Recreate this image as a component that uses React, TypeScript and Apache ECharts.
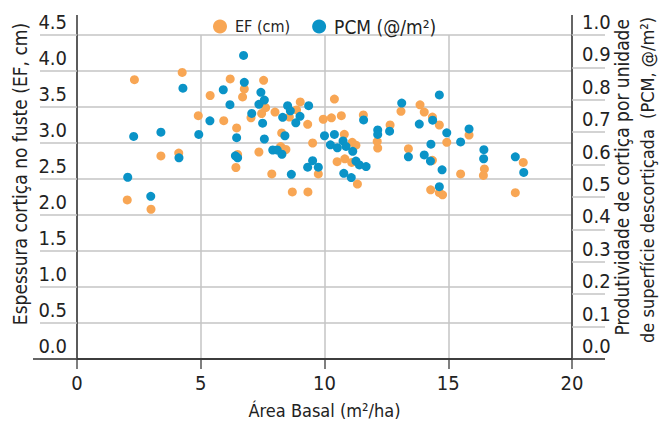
import React, { useEffect, useRef } from "react";
import * as echarts from "echarts";

const FONT = "'Liberation Sans Narrow', 'DejaVu Sans Condensed', 'Roboto', sans-serif";

const xTicks = [0, 5, 10, 15, 20];
const leftTicks = [0, 0.5, 1.0, 1.5, 2.0, 2.5, 3.0, 3.5, 4.0, 4.5];
const rightTicks = [0, 0.1, 0.2, 0.3, 0.4, 0.5, 0.6, 0.7, 0.8, 0.9, 1.0];

const EF_NAME = "EF (cm)";
const PCM_NAME = "PCM (@/m²)";

// EF (cm): [área basal, espessura]
const efPoints: [number, number][] = [
  [2.03, 2.21], [2.32, 3.88], [2.99, 2.08], [3.39, 2.82], [4.11, 2.86],
  [4.25, 3.98], [4.9, 3.38], [5.38, 3.66], [5.93, 3.31], [6.19, 3.89],
  [6.45, 3.21], [6.42, 2.66], [6.49, 2.84], [6.69, 3.64], [6.76, 3.75],
  [7.03, 3.35], [7.35, 2.875], [7.46, 3.41], [7.54, 3.87], [7.62, 3.49],
  [7.87, 2.57], [8.0, 3.43], [8.23, 2.95], [8.27, 3.14], [8.44, 2.91],
  [8.58, 3.36], [8.7, 2.32], [8.87, 3.46], [9.02, 3.57], [9.32, 3.26],
  [9.33, 2.32], [9.52, 3.0], [9.75, 2.57], [9.95, 3.33], [10.28, 3.35],
  [10.4, 3.61], [10.51, 2.74], [10.68, 3.38], [10.8, 3.12], [10.82, 2.78],
  [11.1, 2.73], [11.12, 3.01], [11.27, 2.97], [11.33, 2.43], [11.57, 3.39],
  [12.13, 3.02], [12.15, 2.93], [12.65, 3.25], [13.09, 3.44], [13.39, 2.92],
  [13.86, 3.53], [14.03, 3.43], [14.29, 2.35], [14.36, 3.36], [14.36, 2.76],
  [14.64, 3.25], [14.64, 2.31], [14.77, 2.28], [14.94, 3.01], [15.5, 2.57],
  [15.84, 3.11], [16.42, 2.55], [16.46, 2.64], [17.71, 2.31], [18.03, 2.73],
];

// PCM (@/m²): [área basal, produtividade]
const pcmPoints: [number, number][] = [
  [2.05, 0.561], [2.29, 0.687], [2.98, 0.502], [3.39, 0.7], [4.12, 0.621],
  [4.28, 0.836], [4.92, 0.693], [5.37, 0.735], [5.91, 0.831], [6.18, 0.785],
  [6.4, 0.627], [6.45, 0.683], [6.49, 0.621], [6.73, 0.937], [6.76, 0.854],
  [7.06, 0.758], [7.35, 0.786], [7.43, 0.823], [7.5, 0.728], [7.57, 0.799],
  [7.57, 0.679], [7.91, 0.645], [8.09, 0.645], [8.28, 0.632], [8.31, 0.746],
  [8.4, 0.689], [8.51, 0.782], [8.62, 0.766], [8.66, 0.57], [8.84, 0.729],
  [9.01, 0.749], [9.32, 0.592], [9.36, 0.782], [9.52, 0.612], [9.75, 0.592],
  [10.0, 0.689], [10.24, 0.661], [10.4, 0.693], [10.52, 0.652], [10.75, 0.673],
  [10.78, 0.573], [10.87, 0.656], [11.08, 0.56], [11.14, 0.641], [11.27, 0.611],
  [11.41, 0.599], [11.58, 0.738], [11.68, 0.594], [12.15, 0.707], [12.15, 0.693],
  [12.63, 0.703], [13.12, 0.79], [13.39, 0.624], [13.83, 0.725], [14.03, 0.63],
  [14.28, 0.611], [14.3, 0.663], [14.37, 0.737], [14.64, 0.815], [14.64, 0.532],
  [14.75, 0.584], [14.94, 0.698], [15.5, 0.67], [15.84, 0.71], [16.43, 0.618],
  [16.44, 0.646], [17.71, 0.624], [18.05, 0.576],
];

const ORANGE = "#F8A654";
const BLUE = "#0A93C7";
const GRID_COLOR = "#c4c4c4";
const AXIS_COLOR = "#333333";
const TEXT_COLOR = "#222222";

export default function App() {
  const ref = useRef<HTMLDivElement>(null);

  useEffect(() => {
    document.body.style.margin = "0";
    if (!ref.current) return;
    const chart = echarts.init(ref.current, null, { renderer: "svg" });

    const gridLeft = 77;
    const gridRight = 88;
    const gridTop = 35;
    const gridBottom = 66;
    const W = 660;
    const H = 425;
    const yBottom = H - gridBottom;
    const xRight = W - gridRight;

    const tickLabel = {
      fontSize: 20,
      fontFamily: FONT,
      color: TEXT_COLOR,
      margin: 10,
      verticalAlign: "bottom",
      padding: [0, 0, 3, 0],
      showMaxLabel: true,
      formatter: (v: number) => v.toFixed(1),
    };

    chart.setOption({
      animation: false,
      textStyle: { fontFamily: FONT },
      legend: {
        left: 208,
        top: 12,
        itemWidth: 14,
        itemHeight: 14,
        itemGap: 22,
        icon: "circle",
        data: [EF_NAME, PCM_NAME],
        formatter: (name: string) => (name === EF_NAME ? `{a|${name}}` : `{b|${name}}`),
        textStyle: {
          fontFamily: FONT,
          color: TEXT_COLOR,
          rich: {
            a: { fontSize: 16, fontFamily: FONT, color: TEXT_COLOR, padding: [0, 0, 0, 3] },
            b: { fontSize: 19, fontFamily: FONT, color: TEXT_COLOR, padding: [0, 0, 0, 3] },
          },
        },
      },
      grid: { left: gridLeft, right: gridRight, top: gridTop, bottom: gridBottom },
      xAxis: {
        type: "value",
        min: xTicks[0],
        max: xTicks[xTicks.length - 1],
        interval: xTicks[1] - xTicks[0],
        name: "Área Basal (m²/ha)",
        nameLocation: "middle",
        nameGap: 42,
        nameTextStyle: { fontSize: 18, fontFamily: FONT, color: TEXT_COLOR },
        axisLine: { show: true, lineStyle: { color: AXIS_COLOR, width: 1.5 } },
        axisTick: { show: true, length: 10, lineStyle: { color: "#555", width: 1.5 } },
        axisLabel: { fontSize: 20, fontFamily: FONT, color: TEXT_COLOR, margin: 14 },
        splitLine: { show: true, lineStyle: { color: GRID_COLOR, width: 1.5 } },
      },
      yAxis: [
        {
          type: "value",
          min: leftTicks[0],
          max: leftTicks[leftTicks.length - 1],
          interval: 0.5,
          position: "left",
          axisLine: { show: true, lineStyle: { color: AXIS_COLOR, width: 1.5 } },
          axisTick: { show: true, length: 37, lineStyle: { color: GRID_COLOR, width: 1.5 } },
          axisLabel: tickLabel,
          splitLine: { show: true, lineStyle: { color: GRID_COLOR, width: 1.5 } },
        },
        {
          type: "value",
          min: rightTicks[0],
          max: rightTicks[rightTicks.length - 1],
          interval: 0.1,
          position: "right",
          axisLine: { show: true, lineStyle: { color: AXIS_COLOR, width: 1.5 } },
          axisTick: { show: true, length: 33, lineStyle: { color: GRID_COLOR, width: 1.5 } },
          axisLabel: tickLabel,
          splitLine: { show: false },
        },
      ],
      graphic: [
        { type: "line", shape: { x1: gridLeft, y1: 15, x2: gridLeft, y2: gridTop }, style: { stroke: AXIS_COLOR, lineWidth: 1.5 } },
        { type: "line", shape: { x1: xRight, y1: 15, x2: xRight, y2: gridTop }, style: { stroke: AXIS_COLOR, lineWidth: 1.5 } },
        { type: "line", z: 10, shape: { x1: 33, y1: yBottom, x2: 605, y2: yBottom }, style: { stroke: AXIS_COLOR, lineWidth: 1.5 } },
        {
          type: "text",
          x: 20,
          y: 174,
          rotation: Math.PI / 2,
          style: {
            text: "Espessura cortiça no fuste (EF, cm)",
            fontSize: 19,
            fontFamily: FONT,
            fill: TEXT_COLOR,
            align: "center",
            verticalAlign: "middle",
          },
        },
        {
          type: "text",
          x: 622,
          y: 19,
          rotation: Math.PI / 2,
          style: {
            text: "Produtividade de cortiça por unidade",
            fontSize: 19,
            fontFamily: FONT,
            fill: TEXT_COLOR,
            align: "right",
            verticalAlign: "middle",
          },
        },
        {
          type: "text",
          x: 647,
          y: 17,
          rotation: Math.PI / 2,
          style: {
            text: "de superfície descortiçada  (PCM, @/m²)",
            fontSize: 18,
            fontFamily: FONT,
            fill: TEXT_COLOR,
            align: "right",
            verticalAlign: "middle",
          },
        },
      ],
      series: [
        {
          name: EF_NAME,
          type: "scatter",
          yAxisIndex: 0,
          symbol: "circle",
          symbolSize: 9,
          itemStyle: { color: ORANGE, opacity: 1 },
          data: efPoints,
        },
        {
          name: PCM_NAME,
          type: "scatter",
          yAxisIndex: 1,
          symbol: "circle",
          symbolSize: 9,
          itemStyle: { color: BLUE, opacity: 1 },
          data: pcmPoints,
        },
      ],
    });

    return () => chart.dispose();
  }, []);

  return <div ref={ref} style={{ width: 660, height: 425 }} />;
}
